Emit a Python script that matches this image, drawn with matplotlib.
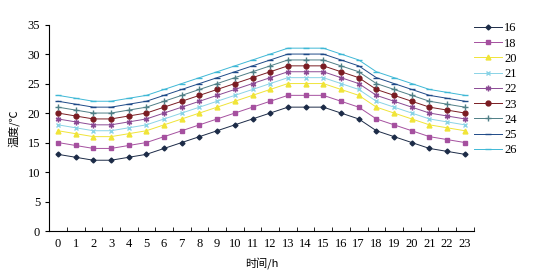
import matplotlib.pyplot as plt
import numpy as np

plt.rcParams['font.family'] = ['Liberation Serif', 'Noto Sans CJK SC']

hours = list(range(24))
t16 = [13, 12.5, 12, 12, 12.5, 13, 14, 15, 16, 17, 18, 19, 20, 21, 21, 21, 20, 19, 17, 16, 15, 14, 13.5, 13]
t18 = [15, 14.5, 14, 14, 14.5, 15, 16, 17, 18, 19, 20, 21, 22, 23, 23, 23, 22, 21, 19, 18, 17, 16, 15.5, 15]
t20 = [17, 16.5, 16, 16, 16.5, 17, 18, 19, 20, 21, 22, 23, 24, 25, 25, 25, 24, 23, 21, 20, 19, 18, 17.5, 17]
t21 = [18, 17.5, 17, 17, 17.5, 18, 19, 20, 21, 22, 23, 24, 25, 26, 26, 26, 25, 24, 22, 21, 20, 19, 18.5, 18]
t22 = [19, 18.5, 18, 18, 18.5, 19, 20, 21, 22, 23, 24, 25, 26, 27, 27, 27, 26, 25, 23, 22, 21, 20, 19.5, 19]
t23 = [20, 19.5, 19, 19, 19.5, 20, 21, 22, 23, 24, 25, 26, 27, 28, 28, 28, 27, 26, 24, 23, 22, 21, 20.5, 20]
t24 = [21, 20.5, 20, 20, 20.5, 21, 22, 23, 24, 25, 26, 27, 28, 29, 29, 29, 28, 27, 25, 24, 23, 22, 21.5, 21]
t25 = [22, 21.5, 21, 21, 21.5, 22, 23, 24, 25, 26, 27, 28, 29, 30, 30, 30, 29, 28, 26, 25, 24, 23, 22.5, 22]
t26 = [23, 22.5, 22, 22, 22.5, 23, 24, 25, 26, 27, 28, 29, 30, 31, 31, 31, 30, 29, 27, 26, 25, 24, 23.5, 23]

series = [
    ('16', t16, '#1c2b47', 'D', 2.5),
    ('18', t18, '#a5509f', 's', 3),
    ('20', t20, '#f0e438', '^', 3.5),
    ('21', t21, '#8ad3e6', 'x', 3.5),
    ('22', t22, '#8b4a94', (6, 2, 0), 4),
    ('23', t23, '#7a1c22', 'o', 3.5),
    ('24', t24, '#4f7f86', '+', 5),
    ('25', t25, '#1f4a88', '_', 5),
    ('26', t26, '#3fb8d6', '_', 5),
]

fig = plt.figure(figsize=(5.34, 2.76), dpi=100)
ax = fig.add_axes([0.092, 0.163, 0.795, 0.748])

for name, vals, col, mk, ms in series:
    ax.plot(hours, vals, color=col, marker=mk, markersize=ms, linewidth=0.7,
            markeredgewidth=1.0, label=name)

ax.set_xlim(-0.5, 23.5)
ax.set_ylim(0, 35)
ax.set_yticks(np.arange(0, 36, 5))
ax.set_xticks(hours)
ax.set_xticks(np.arange(-0.5, 24, 1), minor=True)
ax.tick_params(axis='x', which='major', length=0, labelsize=9, pad=5)
ax.tick_params(axis='x', which='minor', direction='in', length=3)
ax.tick_params(axis='y', direction='out', length=3, labelsize=9)
ax.spines['top'].set_visible(False)
ax.spines['right'].set_visible(False)

ax.set_ylabel('温度/℃', fontsize=8, family=['Noto Sans CJK SC'], labelpad=6)
ax.set_xlabel('时间/h', fontsize=8, family=['Noto Sans CJK SC', 'Liberation Serif'], labelpad=5)

ax.legend(loc='upper left', bbox_to_anchor=(0.99, 1.035), frameon=False, fontsize=9,
          handlelength=2.2, handletextpad=0.2, labelspacing=0.26, borderaxespad=0)

fig.savefig('out.png', dpi=100)
